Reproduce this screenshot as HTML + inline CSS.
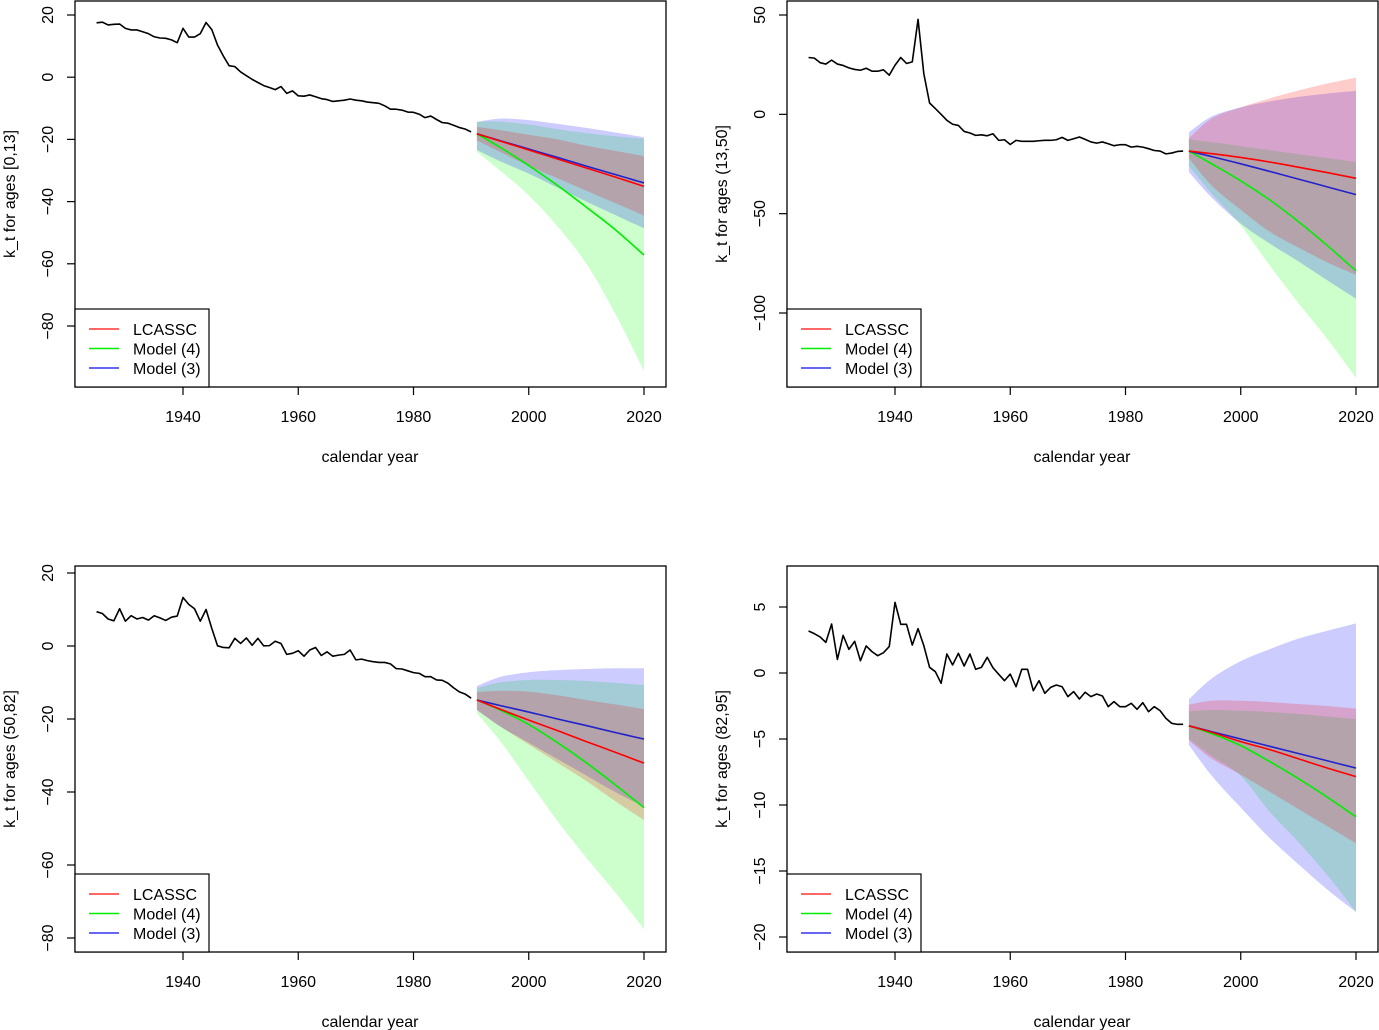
<!DOCTYPE html>
<html><head><meta charset="utf-8">
<style>
html,body{margin:0;padding:0;background:#fff;}
svg{display:block;font-family:"Liberation Sans",Arial,sans-serif;}
</style></head>
<body>
<svg id="chart" width="1379" height="1030" viewBox="0 0 1379 1030" xmlns="http://www.w3.org/2000/svg"></svg>
<script>
const histStart = 1925;
const fcYears = [1991,1995,2000,2005,2010,2015,2020];
const xTicks = [1940,1960,1980,2000,2020];

// Panel 1 [0,13]
const hist1 = [17.5,17.7,16.8,17,17.1,15.7,15.2,15.2,14.6,14,13,12.6,12.5,12,11.1,15.7,12.9,12.9,14,17.6,15.3,10.3,6.8,3.7,3.4,1.7,0.5,-0.7,-1.7,-2.7,-3.3,-4,-3,-5.2,-4.4,-6,-6.1,-5.7,-6.3,-6.9,-7.2,-7.8,-7.6,-7.4,-7,-7.4,-7.6,-8,-8.2,-8.4,-9.2,-10.3,-10.3,-10.6,-11.2,-11.3,-11.9,-13,-12.5,-13.6,-14.6,-14.8,-15.5,-16.2,-16.7,-17.6];
const red1 = [-18.2,-20.5,-23.4,-26.3,-29.2,-32.1,-35.1];
const green1 = [-18.2,-22.5,-28.4,-34.8,-41.8,-49,-57.2];
const blue1 = [-18.2,-20.4,-23.1,-25.8,-28.6,-31.3,-34];
const redUp1 = [-16,-17,-18.5,-20,-22,-23.7,-25.4];
const redLo1 = [-20.3,-24,-28.5,-32.5,-36.5,-40.5,-44.5];
const greenUp1 = [-14.2,-14.3,-15.2,-16.7,-18,-19,-19.8];
const greenLo1 = [-24,-30,-38,-48,-60,-76,-94.5];
const blueUp1 = [-14.4,-13.3,-13.8,-15,-16.3,-17.8,-19.3];
const blueLo1 = [-23.4,-27,-31,-35.5,-40,-44.3,-48.6];
const yTicks1 = [20,0,-20,-40,-60,-80];

// Panel 2 (13,50]
const hist2 = [28.6,28.3,26,25.3,27.3,25.3,24.6,23.4,22.6,22.2,23.2,21.7,21.7,22.4,19.7,24.7,28.6,25.6,26.4,47.8,20.5,5.7,2.9,0,-3,-5,-5.6,-8.6,-9.4,-10.6,-10.3,-10.8,-9.8,-13.1,-12.8,-15.2,-13.1,-13.6,-13.6,-13.6,-13.3,-13.1,-13.1,-12.8,-11.6,-13.1,-12.3,-11.4,-12.6,-13.9,-14.5,-13.9,-14.8,-15.8,-15.3,-15.3,-16.5,-16.1,-16.5,-17.3,-18.2,-18.5,-19.9,-19.5,-18.7,-18.5];
const red2 = [-18.5,-19.8,-21.7,-24,-26.6,-29.3,-32.2];
const green2 = [-18.5,-25,-33.5,-43,-54,-66,-78.8];
const blue2 = [-18.5,-21.3,-24.9,-28.7,-32.6,-36.5,-40.4];
const redUp2 = [-12,-2,3.5,8,12,15.5,18.5];
const redLo2 = [-22,-36,-48,-59,-67,-74.5,-80.8];
const greenUp2 = [-12.6,-14,-16,-18,-20,-22,-24];
const greenLo2 = [-26,-40,-56,-76,-95,-113,-132.7];
const blueUp2 = [-9,-1,3.5,6.5,8.8,10.5,11.8];
const blueLo2 = [-29,-42,-55,-65,-74,-83.5,-92.8];
const yTicks2 = [50,0,-50,-100];

// Panel 3 (50,82]
const hist3 = [9.4,8.9,7.4,6.9,10.2,6.8,8.3,7.4,7.8,7.1,8.3,7.7,7,7.9,8.2,13.3,11.4,10.2,6.8,10,4.8,0.05,-0.4,-0.5,2.1,0.7,2.2,0.2,2.1,0.05,0.1,1.3,0.7,-2.3,-2,-1.3,-2.8,-1.1,-0.4,-2.6,-1.6,-2.8,-2.5,-2.3,-1.1,-3.8,-3.6,-4,-4.3,-4.5,-4.5,-4.9,-6.2,-6.3,-6.8,-7.3,-7.5,-8.4,-8.4,-9.3,-9.4,-10.2,-11.5,-12.6,-13.2,-14.3];
const red3 = [-14.8,-17.3,-20.3,-23.2,-26.2,-29.1,-32.1];
const green3 = [-14.8,-17.5,-21.5,-26.5,-32,-38,-44.3];
const blue3 = [-14.8,-16.3,-18.1,-20,-21.8,-23.7,-25.5];
const redUp3 = [-12.6,-12.3,-12.5,-13.5,-14.8,-16,-17.3];
const redLo3 = [-17.5,-22,-27,-32,-37,-42.5,-47.7];
const greenUp3 = [-11.5,-10,-9.3,-9.3,-9.6,-10.1,-10.7];
const greenLo3 = [-18.5,-26,-37,-48,-58,-67.5,-77.6];
const blueUp3 = [-11,-8.5,-7.2,-6.6,-6.3,-6.1,-6.1];
const blueLo3 = [-17.5,-22,-26.5,-31,-35.5,-40,-44];
const yTicks3 = [20,0,-20,-40,-60,-80];

// Panel 4 (82,95]
const hist4 = [3.18,2.98,2.73,2.32,3.71,1.03,2.85,1.79,2.4,0.93,2.05,1.62,1.31,1.54,2,5.35,3.69,3.69,2.12,3.36,2.07,0.43,0.1,-0.78,1.44,0.61,1.49,0.53,1.44,0.28,0.43,1.19,0.4,-0.1,-0.58,-0.08,-1.04,0.28,0.28,-1.34,-0.58,-1.54,-1.09,-0.91,-1.04,-1.79,-1.41,-1.97,-1.46,-1.79,-1.59,-1.74,-2.55,-2.17,-2.55,-2.55,-2.3,-2.75,-2.25,-2.93,-2.55,-2.85,-3.43,-3.81,-3.89,-3.89];
const red4 = [-4,-4.5,-5.2,-5.8,-6.5,-7.2,-7.85];
const green4 = [-4,-4.6,-5.5,-6.7,-8,-9.4,-10.9];
const blue4 = [-4,-4.45,-5,-5.55,-6.1,-6.65,-7.2];
const redUp4 = [-2.4,-2.1,-2.1,-2.2,-2.35,-2.5,-2.7];
const redLo4 = [-5.1,-6.5,-7.7,-9,-10.3,-11.6,-12.9];
const greenUp4 = [-2.9,-2.8,-2.85,-2.95,-3.1,-3.3,-3.5];
const greenLo4 = [-5,-6.3,-7.8,-10.5,-12.8,-15.3,-18.1];
const blueUp4 = [-2,-0.4,0.9,1.8,2.6,3.2,3.76];
const blueLo4 = [-5.45,-7.8,-10.2,-12.5,-14.5,-16.4,-18.1];
const yTicks4 = [5,0,-5,-10,-15,-20];

const NS = 'http://www.w3.org/2000/svg';
const svg = document.getElementById('chart');
function mk(tag, attrs, parent){
  const e = document.createElementNS(NS, tag);
  for (const k in attrs) e.setAttribute(k, attrs[k]);
  (parent||svg).appendChild(e);
  return e;
}
function smooth(pts){
  let d = 'M'+pts[0][0]+','+pts[0][1];
  for (let i=0;i<pts.length-1;i++){
    const p0=pts[Math.max(0,i-1)], p1=pts[i], p2=pts[i+1], p3=pts[Math.min(pts.length-1,i+2)];
    const c1x=p1[0]+(p2[0]-p0[0])/6, c1y=p1[1]+(p2[1]-p0[1])/6;
    const c2x=p2[0]-(p3[0]-p1[0])/6, c2y=p2[1]-(p3[1]-p1[1])/6;
    d += ' C'+c1x+','+c1y+' '+c2x+','+c2y+' '+p2[0]+','+p2[1];
  }
  return d;
}
function smoothNoM(pts){ return smooth(pts).replace(/^M[^ ]+/, ''); }

const panels = [
  {id:1, L:75, R:666, T:1, B:387, ref0:15, refV0:20, ref1:326, refV1:-80, title:'k_t for ages [0,13]', hist:hist1, red:red1, green:green1, blue:blue1, rU:redUp1, rL:redLo1, gU:greenUp1, gL:greenLo1, bU:blueUp1, bL:blueLo1, yt:yTicks1},
  {id:2, L:787, R:1378, T:1, B:387, ref0:15, refV0:50, ref1:313, refV1:-100, title:'k_t for ages (13,50]', hist:hist2, red:red2, green:green2, blue:blue2, rU:redUp2, rL:redLo2, gU:greenUp2, gL:greenLo2, bU:blueUp2, bL:blueLo2, yt:yTicks2},
  {id:3, L:75, R:666, T:566, B:952, ref0:573, refV0:20, ref1:938, refV1:-80, title:'k_t for ages (50,82]', hist:hist3, red:red3, green:green3, blue:blue3, rU:redUp3, rL:redLo3, gU:greenUp3, gL:greenLo3, bU:blueUp3, bL:blueLo3, yt:yTicks3},
  {id:4, L:787, R:1378, T:566, B:952, ref0:607, refV0:5, ref1:937, refV1:-20, title:'k_t for ages (82,95]', hist:hist4, red:red4, green:green4, blue:blue4, rU:redUp4, rL:redLo4, gU:greenUp4, gL:greenLo4, bU:blueUp4, bL:blueLo4, yt:yTicks4}
];

panels.forEach(p=>{
  const g = mk('g', {});
  
  
  const xOff = p.L - 75;
  const xs = yr => xOff + 183 + (yr-1940)*5.7625;
  const ys = v => p.ref0 + (v - p.refV0)*(p.ref1-p.ref0)/(p.refV1-p.refV0);

  const clipId = 'clip'+p.id;
  const cp = mk('clipPath', {id:clipId}, g);
  mk('rect', {x:p.L, y:p.T, width:p.R-p.L, height:p.B-p.T}, cp);
  const plot = mk('g', {'clip-path':'url(#'+clipId+')'}, g);

  const bands = [
    ['green', p.gU, p.gL, 'rgba(0,255,0,0.2)'],
    ['blue', p.bU, p.bL, 'rgba(0,0,255,0.2)'],
    ['red', p.rU, p.rL, 'rgba(255,0,0,0.2)']
  ];
  bands.forEach(b=>{
    const up = fcYears.map((y,i)=>[xs(y), ys(b[1][i])]);
    const lo = fcYears.map((y,i)=>[xs(y), ys(b[2][i])]).reverse();
    const d = smooth(up) + ' L'+lo[0][0]+','+lo[0][1] + smoothNoM(lo) + ' Z';
    const e = mk('path', {d:d, fill:b[3], stroke:'none'}, plot);
    
    
  });

  const hp = p.hist.map((v,i)=>xs(histStart+i).toFixed(2)+','+ys(v).toFixed(2)).join(' ');
  const hl = mk('polyline', {points:hp, fill:'none', stroke:'#000', 'stroke-width':1.6, 'stroke-linejoin':'round'}, plot);
  
  

  [['green',p.green,'#00ee00'],['blue',p.blue,'#2222cc'],['red',p.red,'#ff0000']].forEach(l=>{
    const pts = fcYears.map((y,i)=>[xs(y), ys(l[1][i])]);
    const e = mk('path', {d:smooth(pts), fill:'none', stroke:l[2], 'stroke-width':1.6}, plot);
    
    
  });

  const box = mk('rect', {x:p.L, y:p.T, width:p.R-p.L, height:p.B-p.T, fill:'none', stroke:'#000', 'stroke-width':1.3}, g);
  
  

  const xa = mk('g', {}, g);
  
  
  xTicks.forEach(t=>{
    const x = xs(t);
    mk('line', {x1:x, x2:x, y1:p.B, y2:p.B+8, stroke:'#000', 'stroke-width':1.2}, xa);
    const tx = mk('text', {x:x, y:p.B+35, 'text-anchor':'middle', 'font-size':16}, xa);
    tx.textContent = t;
    
    
  });
  const xt = mk('text', {x:(p.L+p.R)/2-0.5, y:p.B+75, 'text-anchor':'middle', 'font-size':16}, g);
  xt.textContent = 'calendar year';
  
  

  const ya = mk('g', {}, g);
  
  
  p.yt.forEach(t=>{
    const y = ys(t);
    mk('line', {x1:p.L-8, x2:p.L, y1:y, y2:y, stroke:'#000', 'stroke-width':1.2}, ya);
    const tx = mk('text', {x:0, y:0, 'text-anchor':'middle', 'font-size':16, transform:'translate('+(p.L-22)+','+y+') rotate(-90)'}, ya);
    tx.textContent = String(t).replace('-', '\u2212');
    
    
  });
  const cy = (p.T+p.B)/2;
  const yt = mk('text', {x:0, y:0, 'text-anchor':'middle', 'font-size':16, transform:'translate('+(p.L-60)+','+cy+') rotate(-90)'}, g);
  yt.textContent = p.title;
  
  

  const lg = mk('g', {}, g);
  
  
  mk('rect', {x:p.L, y:p.B-78, width:134, height:78, fill:'#fff', stroke:'#000', 'stroke-width':1.2}, lg);
  [['LCASSC','#ff3333'],['Model (4)','#00ee00'],['Model (3)','#3333ee']].forEach((e,i)=>{
    const y = p.B-58+i*19.5;
    const ent = mk('g', {}, lg);
    
    
    mk('line', {x1:p.L+14, x2:p.L+44, y1:y, y2:y, stroke:e[1], 'stroke-width':1.6}, ent);
    const tx = mk('text', {x:p.L+58, y:y+6, 'font-size':16}, ent);
    tx.textContent = e[0];
  });
});
</script>
</body></html>
